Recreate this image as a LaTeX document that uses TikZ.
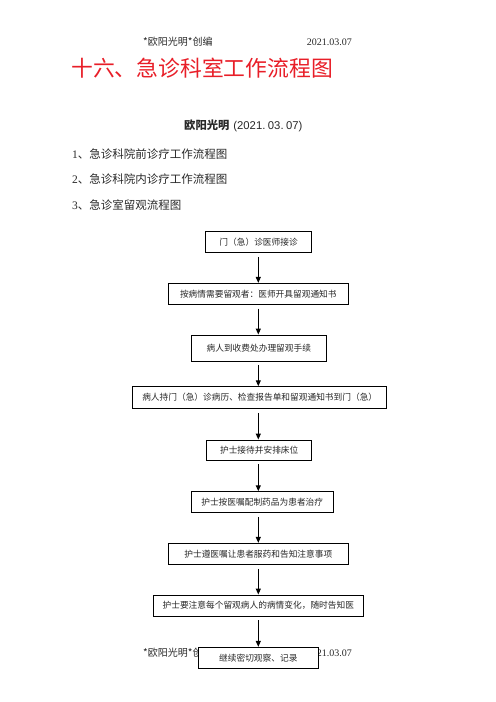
\documentclass[tikz,border=0pt]{standalone}
\usepackage{fontspec}
\setmainfont{Liberation Serif}
\newfontfamily\cjk{Noto Sans CJK SC}
\newfontfamily\arialf{Liberation Sans}
\usetikzlibrary{arrows.meta}
\definecolor{titlered}{RGB}{232,30,40}
\definecolor{txtgray}{RGB}{40,40,40}
\begin{document}
\begin{tikzpicture}[x=1bp,y=-1bp,
  box/.style={draw=black, line width=0.9bp, fill=white, minimum height=21bp, inner sep=0pt,
    text=txtgray, font=\cjk\fontsize{8.7bp}{10bp}\selectfont},
  arr/.style={-{Triangle[length=6bp,width=5bp]}, line width=1.1bp, shorten <=4bp},
  hdr/.style={inner sep=0pt, text=txtgray, font=\fontsize{10bp}{12bp}\selectfont},
  item/.style={inner sep=0pt, anchor=west, text=txtgray, font=\fontsize{11.5bp}{13bp}\selectfont}]
\useasboundingbox (0,0) rectangle (496,702);
% header
\node[hdr, anchor=west] (h1) at (143,42) {\cjk *欧阳光明*创编};
\node[hdr, anchor=east] (h2) at (352,42) {2021.03.07};
% title
\node[inner sep=0pt, anchor=west, text=titlered, font=\cjk\fontsize{21.8bp}{24bp}\selectfont] (title) at (71,68) {十六、急诊科室工作流程图};
% author
\node[inner sep=0pt, anchor=west, text=txtgray, font=\fontsize{11.3bp}{13bp}\selectfont] (author) at (184,126) {{\cjk\bfseries 欧阳光明}\hspace{4bp}{\arialf (2021.\hspace{2.5bp}03.\hspace{2.5bp}07)}};
% list
\node[item] (l1) at (72,154) {1{\cjk 、急诊科院前诊疗工作流程图}};
\node[item] (l2) at (72,179) {2{\cjk 、急诊科院内诊疗工作流程图}};
\node[item] (l3) at (72,205) {3{\cjk 、急诊室留观流程图}};
% footer
\node[hdr, anchor=west] (f1) at (143,653) {\cjk *欧阳光明*创编};
\node[hdr, anchor=east] (f2) at (352,653) {2021.03.07};
% boxes
\node[box, minimum width=105.7bp, minimum height=20.6bp] (b1) at (258.6,242) {门（急）诊医师接诊};
\node[box, minimum width=180bp, minimum height=20.7bp] (b2) at (258.3,293.7) {按病情需要留观者：医师开具留观通知书};
\node[box, minimum width=134.3bp, minimum height=26bp] (b3) at (258.8,348) {病人到收费处办理留观手续};
\node[box, minimum width=254bp, minimum height=21.6bp] (b4) at (259.7,397.5) {病人持门（急）诊病历、检查报告单和留观通知书到门（急）};
\node[box, minimum width=105bp, minimum height=20bp] (b5) at (259.2,450) {护士接待并安排床位};
\node[box, minimum width=142.3bp, minimum height=20.6bp] (b6) at (262.2,502) {护士按医嘱配制药品为患者治疗};
\node[box, minimum width=180bp, minimum height=21bp] (b7) at (258.3,553.8) {护士遵医嘱让患者服药和告知注意事项};
\node[box, minimum width=210bp, minimum height=21bp] (b8) at (258.3,605.5) {护士要注意每个留观病人的病情变化，随时告知医};
\node[box, minimum width=120bp, minimum height=21bp] (b9) at (258.3,657.8) {继续密切观察、记录};
% arrow axis
\coordinate (ax) at (258.3,0);
\draw[arr] (b1.south -| ax) -- (b2.north -| ax);
\draw[arr] (b2.south -| ax) -- (b3.north -| ax);
\draw[arr] (b3.south -| ax) -- (b4.north -| ax);
\draw[arr] (b4.south -| ax) -- (b5.north -| ax);
\draw[arr] (b5.south -| ax) -- (b6.north -| ax);
\draw[arr] (b6.south -| ax) -- (b7.north -| ax);
\draw[arr] (b7.south -| ax) -- (b8.north -| ax);
\draw[arr] (b8.south -| ax) -- (b9.north -| ax);
\end{tikzpicture}
\end{document}
